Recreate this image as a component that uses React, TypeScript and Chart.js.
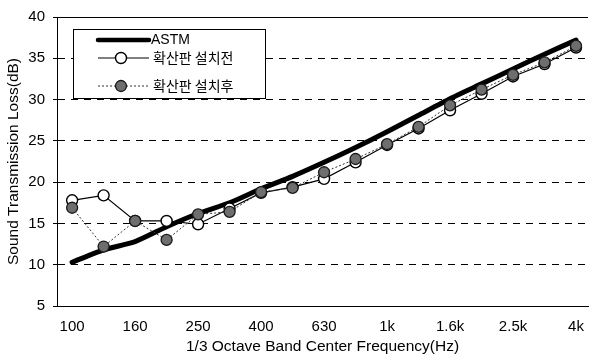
import React, { useEffect, useRef } from 'react';
import { Chart, registerables } from 'chart.js';

Chart.register(...registerables);

// 1/3 octave band centre frequencies
const frequencies = ['100', '125', '160', '200', '250', '315', '400', '500', '630', '800', '1k', '1.25k', '1.6k', '2k', '2.5k', '3.15k', '4k'];

// Series values (dB)
const astmValues = [10.3, 11.8, 12.8, 14.6, 16.2, 17.5, 19.2, 20.7, 22.4, 24.2, 26.1, 28.1, 30.1, 31.9, 33.7, 35.5, 37.2];
const beforeValues = [17.8, 18.4, 15.3, 15.3, 14.9, 16.8, 18.7, 19.4, 20.4, 22.4, 24.5, 26.5, 28.7, 30.7, 32.8, 34.3, 36.3];
const afterValues = [16.9, 12.2, 15.3, 13.0, 16.1, 16.4, 18.8, 19.3, 21.2, 22.8, 24.6, 26.7, 29.3, 31.2, 33.0, 34.5, 36.5];

const seriesNames = ['ASTM', '확산판 설치전', '확산판 설치후'];

const yMin = 5;
const yMax = 40;
const yStep = 5;

const xTitle = '1/3 Octave Band Center Frequency(Hz)';
const yTitle = 'Sound Transmission Loss(dB)';

const FONT = "'Liberation Sans', Arial, 'Noto Sans CJK KR', sans-serif";

const toPoints = (values: number[]) => values.map((v, i) => ({ x: i, y: v }));

const boxLegend = {
  id: 'boxLegend',
  afterDraw(chart: any) {
    const { ctx, chartArea } = chart;
    const x0 = Math.round(chartArea.left) + 16;
    const y0 = Math.round(chartArea.top) + 12;
    const w = 192;
    const h = 69;
    ctx.save();
    ctx.fillStyle = '#ffffff';
    ctx.fillRect(x0, y0, w, h);
    ctx.strokeStyle = '#000';
    ctx.lineWidth = 1;
    ctx.setLineDash([]);
    ctx.strokeRect(x0 + 0.5, y0 + 0.5, w, h);
    const rowOffsets = [11, 29, 57];
    chart.data.datasets.forEach((ds: any, i: number) => {
      const y = y0 + rowOffsets[i];
      ctx.beginPath();
      ctx.setLineDash(ds.borderDash || []);
      ctx.lineWidth = i === 0 ? 4.5 : ds.borderWidth;
      ctx.strokeStyle = ds.borderColor;
      ctx.lineCap = i === 0 ? 'round' : 'butt';
      ctx.moveTo(x0 + 25, y);
      ctx.lineTo(x0 + 76, y);
      ctx.stroke();
      ctx.setLineDash([]);
      if (ds.pointRadius > 0) {
        ctx.beginPath();
        ctx.arc(x0 + 48, y, ds.pointRadius, 0, Math.PI * 2);
        ctx.fillStyle = ds.pointBackgroundColor;
        ctx.fill();
        ctx.lineWidth = ds.pointBorderWidth;
        ctx.strokeStyle = ds.pointBorderColor;
        ctx.stroke();
      }
      ctx.fillStyle = '#000';
      ctx.textBaseline = 'middle';
      ctx.textAlign = 'left';
      ctx.font = i === 0 ? `14px ${FONT}` : `14px 'Noto Sans CJK KR', ${FONT}`;
      ctx.fillText(ds.label, x0 + (i === 0 ? 78 : 80), y);
    });
    ctx.restore();
  },
};

export default function App() {
  const canvasRef = useRef<HTMLCanvasElement | null>(null);

  useEffect(() => {
    if (!canvasRef.current) return;
    Chart.defaults.font.family = FONT;
    Chart.defaults.color = '#000';
    const chart = new Chart(canvasRef.current, {
      type: 'line',
      data: {
        datasets: [
          {
            label: seriesNames[0],
            data: toPoints(astmValues),
            borderColor: '#000',
            borderWidth: 5,
            pointRadius: 0,
            tension: 0.2,
            borderCapStyle: 'round',
            order: 3,
          },
          {
            label: seriesNames[1],
            data: toPoints(beforeValues),
            borderColor: '#000',
            borderWidth: 1.2,
            pointRadius: 5.5,
            pointBackgroundColor: '#ffffff',
            pointBorderColor: '#000',
            pointBorderWidth: 1.4,
            tension: 0,
            order: 2,
          },
          {
            label: seriesNames[2],
            data: toPoints(afterValues),
            borderColor: '#333',
            borderWidth: 1,
            borderDash: [2, 2],
            pointRadius: 5.5,
            pointBackgroundColor: '#6e6e6e',
            pointBorderColor: '#1a1a1a',
            pointBorderWidth: 1.3,
            tension: 0,
            order: 1,
          },
        ],
      },
      options: {
        responsive: false,
        animation: false,
        layout: { autoPadding: false, padding: { top: 17, right: 2, left: 0, bottom: 0 } },
        plugins: {
          legend: { display: false },
          tooltip: { enabled: false },
        },
        scales: {
          x: {
            type: 'linear',
            min: -0.48,
            max: 16.38,
            grid: {
              display: true,
              drawOnChartArea: false,
              drawTicks: true,
              tickLength: 12,
              tickColor: 'rgba(0,0,0,0)',
              color: '#000',
            },
            border: { display: true, color: '#000', width: 1 },
            ticks: {
              stepSize: 1,
              includeBounds: false,
              autoSkip: false,
              maxRotation: 0,
              padding: 0,
              font: { size: 15 },
              color: '#000',
              callback: (v: any) => {
                const i = Math.round(Number(v));
                return Math.abs(Number(v) - i) < 1e-6 && i % 2 === 0 && i >= 0 && i < frequencies.length ? frequencies[i] : '';
              },
            },
            title: {
              display: true,
              text: xTitle,
              font: { size: 15.5 },
              color: '#000',
              padding: 0,
            },
            afterFit: (s: any) => {
              s.height = 50;
            },
          },
          y: {
            min: yMin,
            max: yMax,
            ticks: { stepSize: yStep, padding: 8, font: { size: 15 }, color: '#000' },
            grid: {
              color: '#000',
              lineWidth: 1,
              tickLength: 4,
              tickColor: '#000',
            },
            border: {
              display: true,
              color: '#000',
              width: 1,
              dash: (c: any) => (c.tick && (c.tick.value === yMax || c.tick.value === yMin) ? [] : [7, 6]),
            },
            title: {
              display: true,
              text: yTitle,
              font: { size: 15.5 },
              color: '#000',
              padding: { top: 4, bottom: 0 },
            },
            afterFit: (s: any) => {
              s.width = 57;
            },
          },
        },
      },
      plugins: [boxLegend],
    } as any);
    return () => chart.destroy();
  }, []);

  return (
    <div style={{ position: 'absolute', left: 0, top: 0, width: 590, height: 356, background: '#fff' }}>
      <canvas ref={canvasRef} width={590} height={356} />
    </div>
  );
}
